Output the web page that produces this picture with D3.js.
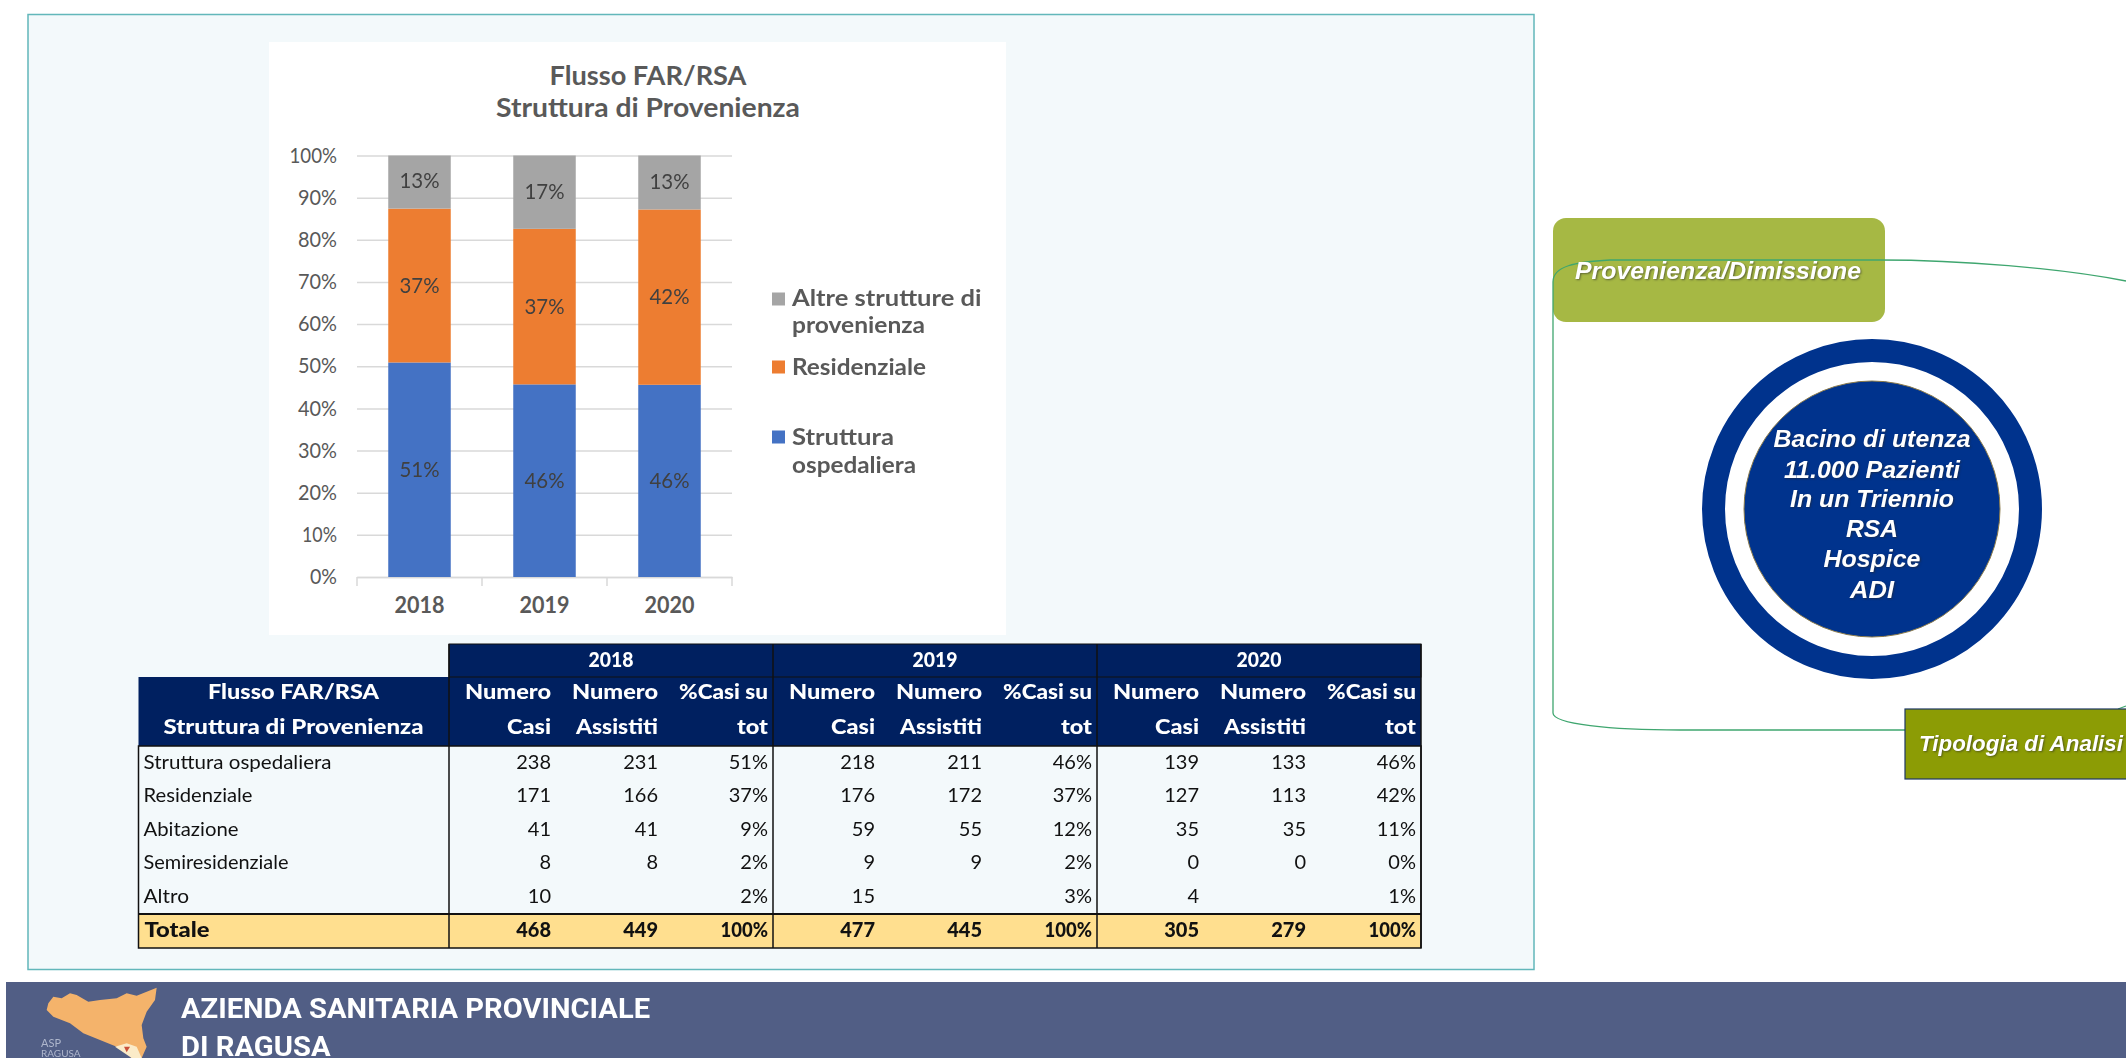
<!DOCTYPE html>
<html><head><meta charset="utf-8">
<script src="https://cdn.jsdelivr.net/npm/d3@7"></script>
<style>html,body{margin:0;padding:0;background:#fff;overflow:hidden}svg{display:block;filter:blur(0.5px)}text{font-family:Lato,sans-serif}</style>
</head><body><svg id="c" width="2126" height="1058"></svg>
<script>
const years = ["2018","2019","2020"];
const sources = ["Struttura ospedaliera","Residenziale","Abitazione","Semiresidenziale","Altro"];
const casi2018 = [238,171,41,8,10];
const casi2019 = [218,176,59,9,15];
const casi2020 = [139,127,35,0,4];
const assistiti2018 = [231,166,41,8,null];
const assistiti2019 = [211,172,55,9,null];
const assistiti2020 = [133,113,35,0,null];
const pct2018 = ["51%","37%","9%","2%","2%"];
const pct2019 = ["46%","37%","12%","2%","3%"];
const pct2020 = ["46%","42%","11%","0%","1%"];
const totCasi = [468,477,305];
const totAssistiti = [449,445,279];
const ospedaliera = [50.9,45.7,45.6];
const residenziale = [36.5,36.9,41.6];
const altre = [12.6,17.4,12.8];
const serieKeys = ["ospedaliera","residenziale","altre"];
const serieColors = ["#4472C4","#ED7D31","#A5A5A5"];
const pctTicks = [0,10,20,30,40,50,60,70,80,90,100];

const svg = d3.select("#c");
const grey = "#595959";
// squeeze or stretch a text to the width it has in the reference
const fit=(sel,w)=>w?sel.attr("textLength",w).attr("lengthAdjust","spacingAndGlyphs"):sel;

// page panels
svg.append("rect").attr("x",28).attr("y",14.5).attr("width",1506).attr("height",955)
  .attr("fill","#F3F9FB").attr("stroke","#62B7BA").attr("stroke-width",1.5);
svg.append("rect").attr("x",269).attr("y",42).attr("width",737).attr("height",593).attr("fill","#fff");

// chart
const x = d3.scaleBand().domain(years).range([357,732]).paddingInner(0.5).paddingOuter(0.25);
const y = d3.scaleLinear().domain([0,100]).range([577,155.5]);
const rows = years.map((yr,i)=>({year:yr,ospedaliera:ospedaliera[i],residenziale:residenziale[i],altre:altre[i]}));
const stack = d3.stack().keys(serieKeys)(rows);

const t = svg.append("g").attr("text-anchor","middle").attr("fill",grey).attr("font-weight",700).attr("font-size",26);
fit(t.append("text").attr("x",648).attr("y",85).text("Flusso FAR/RSA"),197);
fit(t.append("text").attr("x",648).attr("y",117).text("Struttura di Provenienza"),304);

const gy = svg.append("g").attr("transform","translate(357,0)")
  .call(d3.axisLeft(y).tickValues(pctTicks).tickSize(-375).tickPadding(20).tickFormat(d=>d+"%"));
gy.select(".domain").remove();
gy.selectAll("line").attr("stroke","#D9D9D9").attr("stroke-width",1.5);
gy.selectAll("text").attr("fill",grey).attr("font-size",21).style("font-family","Lato")
  .attr("textLength",d=>d===100?47.5:d===0?27:d===10?35:39).attr("lengthAdjust","spacingAndGlyphs");

const gx = svg.append("g").attr("transform","translate(0,577)")
  .call(d3.axisBottom(x).tickSize(0).tickPadding(20));
gx.select(".domain").attr("stroke","#D9D9D9").attr("stroke-width",1.5);
gx.selectAll("text").attr("fill",grey).attr("font-size",22).attr("font-weight",700).style("font-family","Lato")
  .attr("textLength",50).attr("lengthAdjust","spacingAndGlyphs");
const step = x.step();
gx.selectAll("line.sep").data(d3.range(4)).enter().append("line").attr("class","sep")
  .attr("x1",i=>357+i*step).attr("x2",i=>357+i*step).attr("y1",0).attr("y2",9)
  .attr("stroke","#D9D9D9").attr("stroke-width",1.5);

stack.forEach((s,si)=>{
  svg.append("g").selectAll("rect").data(s).enter().append("rect")
    .attr("x",d=>x(d.data.year)).attr("width",x.bandwidth())
    .attr("y",d=>y(d[1])).attr("height",d=>y(d[0])-y(d[1])).attr("fill",serieColors[si]);
  svg.append("g").selectAll("text").data(s).enter().append("text")
    .attr("x",d=>x(d.data.year)+x.bandwidth()/2).attr("y",d=>y((d[0]+d[1])/2)-(si===2?1:0))
    .attr("dy","0.35em").attr("text-anchor","middle").attr("font-size",21).attr("fill","#404040")
    .attr("textLength",40).attr("lengthAdjust","spacingAndGlyphs")
    .text(d=>Math.round(d[1]-d[0])+"%");
});

// legend
const legend = [
  {c:2,lines:["Altre strutture di","provenienza"],ys:[298,325],w:[189.5,133],sq:299},
  {c:1,lines:["Residenziale"],ys:[366.5],w:[134],sq:367},
  {c:0,lines:["Struttura","ospedaliera"],ys:[437,465],w:[102,124],sq:437}
];
legend.forEach(l=>{
  svg.append("rect").attr("x",772).attr("y",l.sq-6.5).attr("width",13).attr("height",13).attr("fill",serieColors[l.c]);
  l.lines.forEach((s,i)=>fit(svg.append("text").attr("x",792).attr("y",l.ys[i]).attr("dy","0.35em")
    .attr("fill",grey).attr("font-weight",700).attr("font-size",23).text(s),l.w[i]));
});

// table
const navy="#002060", ink="#111";
const groupX = d3.scaleBand().domain(years).range([449,1421]);
const colOffsets = [102,209,319];
const rowY = [761.5,794.5,828.5,862,895.5];
const sourceW = [188,109,95,145,45.5];
const T = svg.append("g");
T.append("rect").attr("x",449).attr("y",644).attr("width",972).attr("height",33).attr("fill",navy);
T.append("rect").attr("x",138.5).attr("y",677).attr("width",1282.5).attr("height",69).attr("fill",navy);
T.append("rect").attr("x",138.5).attr("y",914).attr("width",1282.5).attr("height",34).attr("fill","#FFDF8F");
T.append("rect").attr("x",138.5).attr("y",746).attr("width",1282.5).attr("height",202).attr("fill","none").attr("stroke",ink).attr("stroke-width",1.5);
T.append("line").attr("x1",138.5).attr("x2",1421).attr("y1",914).attr("y2",914).attr("stroke",ink).attr("stroke-width",2);
T.append("rect").attr("x",449).attr("y",644).attr("width",972).attr("height",33).attr("fill","none").attr("stroke",ink).attr("stroke-width",1);
[449,...years.map(yr=>groupX(yr)+groupX.bandwidth())].forEach(px=>
  T.append("line").attr("x1",px).attr("x2",px).attr("y1",644).attr("y2",948).attr("stroke",ink).attr("stroke-width",1.5));
const cell=(px,py,s,o={})=>fit(T.append("text").attr("x",px).attr("y",py).attr("dy","0.35em")
  .attr("text-anchor",o.a||"end").attr("font-size",o.fs||20).attr("font-weight",o.b?900:400)
  .attr("fill",o.c||ink).text(s),o.w);
const W="#fff", H={b:1,c:W,fs:21};
cell(293.5,692,"Flusso FAR/RSA",{...H,a:"middle",w:171});
cell(293.5,727,"Struttura di Provenienza",{...H,a:"middle",w:260});
sources.forEach((s,i)=>cell(143.5,rowY[i],s,{a:"start",w:sourceW[i]}));
cell(144.5,929.5,"Totale",{a:"start",b:1,fs:21,w:65});
const casi=[casi2018,casi2019,casi2020], assi=[assistiti2018,assistiti2019,assistiti2020], pcts=[pct2018,pct2019,pct2020];
years.forEach((yr,g)=>{
  const g0=groupX(yr);
  cell(g0+groupX.bandwidth()/2,659.5,yr,{a:"middle",b:1,c:W,fs:20,w:45});
  cell(g0+colOffsets[0],692,"Numero",{...H,w:86});
  cell(g0+colOffsets[1],692,"Numero",{...H,w:86});
  cell(g0+colOffsets[2],692,"%Casi su",{...H,w:89});
  cell(g0+colOffsets[0],727,"Casi",{...H,w:44});
  cell(g0+colOffsets[1],727,"Assistiti",{...H,w:82});
  cell(g0+colOffsets[2],727,"tot",{...H,w:31});
  sources.forEach((s,i)=>{
    cell(g0+colOffsets[0],rowY[i],casi[g][i]);
    if(assi[g][i]!==null) cell(g0+colOffsets[1],rowY[i],assi[g][i]);
    cell(g0+colOffsets[2],rowY[i],pcts[g][i]);
  });
  cell(g0+colOffsets[0],929.5,totCasi[g],{b:1});
  cell(g0+colOffsets[1],929.5,totAssistiti[g],{b:1});
  cell(g0+colOffsets[2],929.5,"100%",{b:1,w:47.5});
});

// right-hand diagram
const arial="'Liberation Sans',Arial,sans-serif", shadow="1px 1px 2px rgba(40,40,40,.55)";
svg.append("rect").attr("x",1553).attr("y",218).attr("width",332).attr("height",104).attr("rx",13).attr("fill","#A6B844");
svg.append("path").attr("fill","none").attr("stroke","#3FA66F").attr("stroke-width",1.3)
  .attr("d","M2126,281 C2060,268 1960,260 1880,260 L1610,260 C1575,262 1553,266 1553,282 L1553,713 C1553,724 1610,730 1680,730 L1905,730");
svg.append("path").attr("fill","none").attr("stroke","#3FA66F").attr("stroke-width",1.3).attr("d","M2126,706 L2118,709");
svg.append("rect").attr("x",1905).attr("y",709).attr("width",225).attr("height",70).attr("fill","#8C9C05").attr("stroke","#1F3864").attr("stroke-width",1.2);
const ital=(px,py,s,fs,w)=>fit(svg.append("text").attr("x",px).attr("y",py).attr("dy","0.35em").attr("text-anchor","middle")
  .style("font-family",arial).style("text-shadow",shadow).attr("font-style","italic").attr("font-weight",700)
  .attr("font-size",fs).attr("fill","#fff").text(s),w);
ital(1718,271,"Provenienza/Dimissione",23,286);
ital(2021,743,"Tipologia di Analisi",21.5,204);
svg.append("circle").attr("cx",1872).attr("cy",509).attr("r",158.5).attr("fill","#fff").attr("stroke","#00338D").attr("stroke-width",23);
svg.append("circle").attr("cx",1872).attr("cy",509).attr("r",128).attr("fill","#00338D").attr("stroke","#8A7A4A").attr("stroke-width",1);
const bacino=["Bacino di utenza","11.000 Pazienti","In un Triennio","RSA","Hospice","ADI"], bacinoY=[439,470,499,529,559,590], bacinoW=[197,176,164,52,97,44];
bacino.forEach((s,i)=>ital(1872,bacinoY[i],s,24,bacinoW[i]));

// footer banner
svg.append("rect").attr("x",6).attr("y",982).attr("width",2120).attr("height",76).attr("fill","#515E85");
const logo=pts=>"M"+pts.map(p=>(20+p[0]/3)+","+(975+p[1]/3)).join(" L")+" Z";
svg.append("path").attr("fill","#F4B36B").attr("d",logo([[80,105],[85,85],[100,65],[125,70],[150,55],[170,60],[205,80],[240,75],[290,70],[320,55],[350,62],[410,38],[405,75],[380,110],[365,150],[370,190],[380,215],[365,249],[335,249],[320,235],[290,215],[240,195],[190,175],[150,145],[100,125]]));
svg.append("path").attr("fill","#FBEBC8").attr("d",logo([[285,215],[320,205],[350,215],[365,249],[335,249]]));
svg.append("path").attr("fill","#C9503A").attr("d",logo([[312,215],[330,215],[320,232]]));
const banner=svg.append("g").attr("fill","#fff");
fit(banner.append("text").attr("x",181).attr("y",1018).attr("font-size",28).attr("font-weight",700).style("font-family","Roboto").text("AZIENDA SANITARIA PROVINCIALE"),469);
fit(banner.append("text").attr("x",181).attr("y",1056).attr("font-size",28).attr("font-weight",700).style("font-family","Roboto").text("DI RAGUSA"),149.5);
svg.append("text").attr("x",41).attr("y",1047).attr("font-size",11).attr("fill","#AEB6CC").text("ASP");
svg.append("text").attr("x",41).attr("y",1057).attr("font-size",10).attr("fill","#AEB6CC").text("RAGUSA");
</script></body></html>
